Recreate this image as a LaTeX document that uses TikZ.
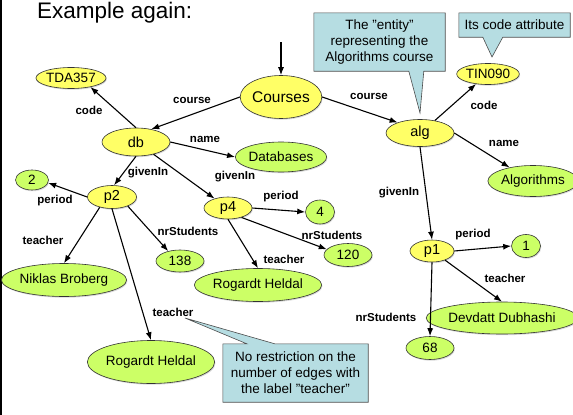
\documentclass[tikz,border=0pt]{standalone}
\usepackage{fontspec}
\setmainfont{Liberation Sans}
\usetikzlibrary{arrows.meta,shapes.geometric,shadows,backgrounds,calc}
\definecolor{entyel}{RGB}{255,255,102}
\definecolor{valgrn}{RGB}{204,255,102}
\definecolor{notecol}{RGB}{182,221,226}

\begin{document}
\begin{tikzpicture}[x=1pt,y=-1pt,
  ent/.style={ellipse,draw=black!80,line width=0.6pt,fill=entyel,inner sep=0pt,
    font=\fontsize{14.5}{17}\selectfont,
    drop shadow={shadow xshift=0.8pt,shadow yshift=-1.2pt,fill=black!30}},
  val/.style={ent,fill=valgrn,font=\fontsize{13.5}{16}\selectfont},
  sz/.style 2 args={minimum width=#1pt,minimum height=#2pt},
  ar/.style={-{Latex[length=8pt,width=6pt]},line width=1.1pt},
  lbl/.style={font=\bfseries\fontsize{11.5}{13}\selectfont,inner sep=0pt},
  notebox/.style={align=center,inner sep=0pt,font=\fontsize{13.5}{16}\selectfont},
  notebg/.style={draw=black!70,line width=0.6pt,fill=notecol}]
\useasboundingbox (0,0) rectangle (573,415);
\draw[line width=1.5pt] (0.75,0) -- (0.75,415);
\node[anchor=base west,inner sep=0pt,font=\fontsize{22.5}{26}\selectfont] (title) at (37,18) {Example again:};

% entities
\node[ent,sz={77}{43},font=\fontsize{15.5}{18}\selectfont] (crs) at (281,97) {Courses};
\node[ent,sz={68}{28}] (db) at (136,142) {db};
\node[ent,sz={68}{27}] (alg) at (420,133) {alg};
\node[ent,sz={49}{23}] (p2) at (112,197) {p2};
\node[ent,sz={48}{22}] (p4) at (228,208) {p4};
\node[ent,sz={44}{22}] (p1) at (432,251) {p1};
\node[ent,sz={63}{21},font=\fontsize{13.5}{16}\selectfont] (tda) at (71,78) {TDA357};
\node[ent,sz={59}{21},font=\fontsize{13.5}{16}\selectfont] (tin) at (488,74) {TIN090};

% values
\node[val,sz={76}{30}] (dbs) at (281,157) {Databases};
\node[val,sz={72}{31}] (algs) at (533,181) {Algorithms};
\node[val,sz={33}{20}] (two) at (32,180) {2};
\node[val,sz={29}{24}] (four) at (320,212) {4};
\node[val,sz={29}{23}] (one) at (526,246) {1};
\node[val,sz={48}{22}] (n138) at (180,261) {138};
\node[val,sz={48}{23}] (n120) at (348,255) {120};
\node[val,sz={48}{23}] (n68) at (430,348) {68};
\node[val,sz={96}{33}] (nik) at (64,280) {Niklas Broberg};
\node[val,sz={100}{33}] (rh1) at (258,285) {Rogardt Heldal};
\node[val,sz={116}{43}] (rh2) at (151,362) {Rogardt Heldal};
\node[val,sz={116}{32}] (dev) at (502,318) {Devdatt Dubhashi};

% edges
\coordinate (root) at (281,42);
\draw[ar] (root) -- (crs.north);
\draw[ar] (crs.west) -- (db.40);
\draw[ar] (crs.east) -- (alg.155);
\draw[ar] (db.north) -- (tda.-25);
\draw[ar] (db.east) -- (dbs.west);
\draw[ar] (db.south) -- (p2.80);
\draw[ar] (db.-35) -- (p4.145);
\draw[ar] (p2.west) -- (two.-10);
\draw[ar] (p2.-140) -- (nik.north);
\draw[ar] (p2.-30) -- (n138.140);
\draw[ar] (p2.south) -- (rh2.north);
\draw[ar] (p4.east) -- (four.west);
\draw[ar] (p4.-35) -- (n120.165);
\draw[ar] (p4.south) -- (rh1.north);
\draw[ar] (alg.40) -- (tin.-140);
\draw[ar] (alg.east) -- (algs.150);
\draw[ar] (alg.south) -- (p1.north);
\draw[ar] (p1.east) -- (one.west);
\draw[ar] (p1.-35) -- (dev.north);
\draw[ar] (p1.south) -- (n68.north);

% edge labels
\node[lbl] (lcrs1) at (192,100) {course};
\node[lbl] (lcrs2) at (369,96) {course};
\node[lbl] (lcode1) at (89,110) {code};
\node[lbl] (lname1) at (205,139) {name};
\node[lbl] (lgiv1) at (148,173) {givenIn};
\node[lbl] (lgiv2) at (235,177) {givenIn};
\node[lbl] (lper1) at (55,201) {period};
\node[lbl] (ltch1) at (43,240) {teacher};
\node[lbl] (lnr1) at (188,231) {nrStudents};
\node[lbl] (ltch2) at (173,312) {teacher};
\node[lbl] (lper2) at (281,197) {period};
\node[lbl] (lnr2) at (332,235) {nrStudents};
\node[lbl] (ltch3) at (284,259) {teacher};
\node[lbl] (lcode2) at (484,105) {code};
\node[lbl] (lname2) at (504,143) {name};
\node[lbl] (lgiv3) at (399,193) {givenIn};
\node[lbl] (lper3) at (473,235) {period};
\node[lbl] (ltch4) at (505,278) {teacher};
\node[lbl] (lnr3) at (386,317) {nrStudents};

% callouts
\coordinate (tipE) at (420,113);
\coordinate (tipC) at (492,57);
\coordinate (tipT) at (185,318);
\node[notebox,sz={131}{58}] (nEnt) at (379.5,42) {The "entity"\\representing the\\Algorithms course};
\node[notebox,sz={111}{24}] (nCode) at (514.5,25) {Its code attribute};
\node[notebox,sz={145}{58}] (nTch) at (295.5,373) {No restriction on the\\number of edges with\\the label "teacher"};
\begin{scope}[on background layer]
\draw[notebg] (nEnt.south west) |- (nEnt.north east) |- ($(nEnt.south west)+(110,0)$)
  -- (tipE) -- ($(nEnt.south west)+(95,0)$) -- cycle;
\draw[notebg] (nCode.south west) |- (nCode.north east) |- ($(nCode.south west)+(44,0)$)
  -- (tipC) -- ($(nCode.south west)+(24,0)$) -- cycle;
\draw[notebg] (nTch.north west) -- ($(nTch.north west)+(24,0)$) -- (tipT)
  -- ($(nTch.north west)+(52,0)$) -| (nTch.south east) -- (nTch.south west) -- cycle;
\end{scope}
\end{tikzpicture}
\end{document}
